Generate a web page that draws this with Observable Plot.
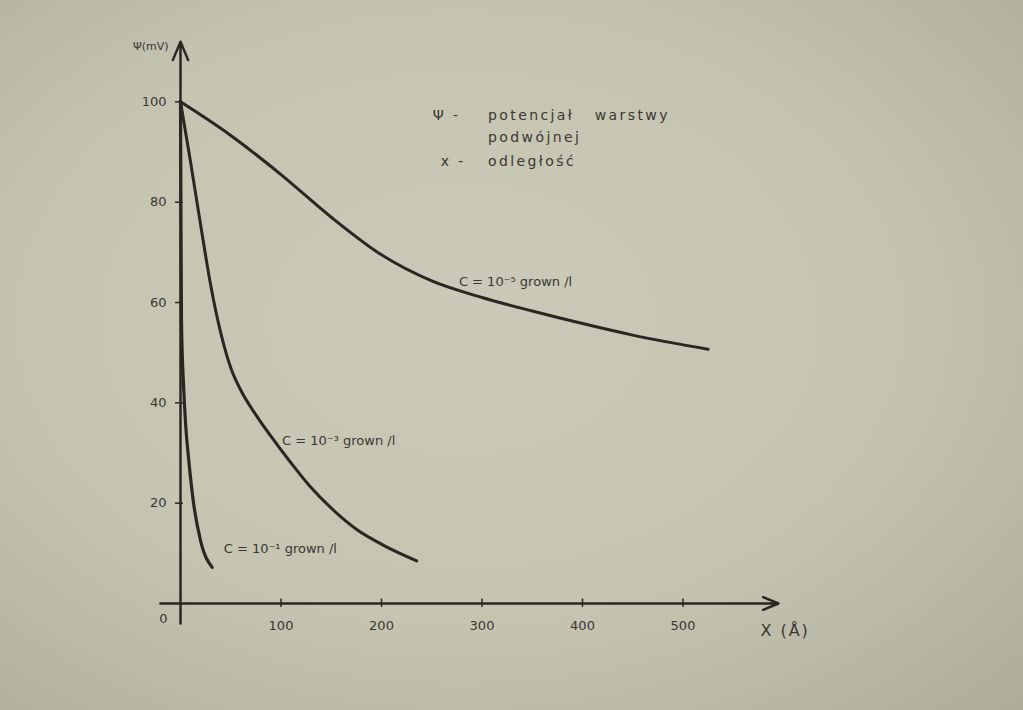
<!DOCTYPE html>
<html>
<head>
<meta charset="utf-8">
<script src="https://cdn.jsdelivr.net/npm/d3@7"></script>
<script src="https://cdn.jsdelivr.net/npm/@observablehq/plot@0.6"></script>
<style>
  html, body { margin: 0; padding: 0; }
  body {
    width: 1023px; height: 710px; overflow: hidden;
    background: radial-gradient(ellipse at 45% 45%, #cbcab8 0%, #c5c4b1 55%, #aeab9a 100%);
  }
  #chart svg { display: block; background: transparent; }
  #chart text { fill: #3a3731; }
  .note text { letter-spacing: 2.4px; }
  .xtitle text { letter-spacing: 2px; }
</style>
</head>
<body>
<div id="chart"></div>
<script>
// Potential of the double layer vs distance, for three concentrations
const x5 = [0, 50, 100, 150, 200, 250, 300, 350, 400, 450, 525];
const y5 = [100, 93.3, 85.5, 77, 69.5, 64.3, 61, 58.3, 55.8, 53.5, 50.7];

const x3 = [0, 10, 20, 30, 40, 50, 60, 75, 89, 110, 129, 150, 175, 205, 235];
const y3 = [100, 88, 75.5, 63.5, 54, 47, 42.5, 37.6, 33.6, 28, 23.3, 19, 14.8, 11.3, 8.5];

const x1 = [0, 0.5, 1, 3.3, 5, 8, 13, 20, 31.5];
const y1 = [100, 75, 56, 42.4, 36, 29, 20, 12.5, 7.2];

const xTicks = [100, 200, 300, 400, 500];
const yTicks = [20, 40, 60, 80, 100];

// axis lines (drawn by hand, with arrow heads)
const axisXExtent = [-20, 595];
const axisYExtent = [-4, 112];

// explanatory notes
const noteText = ["Ψ -", "potencjał   warstwy", "podwójnej", "x -", "odległość"];
const noteX = [251, 306, 306, 259, 306];
const noteY = [97.2, 97.2, 92.8, 88.2, 88.2];

// curve labels
const curveLabel = ["C = 10⁻⁵ grown /l", "C = 10⁻³ grown /l", "C = 10⁻¹ grown /l"];
const curveLabelX = [277, 101, 43];
const curveLabelY = [64.1, 32.5, 10.8];

const toPts = (xs, ys) => xs.map((x, i) => ({x, y: ys[i]}));
const ink = "#2a2722";

const chart = Plot.plot({
  width: 1023,
  height: 710,
  marginLeft: 180,
  marginRight: 240,
  marginTop: 1,
  marginBottom: 107,
  style: {fontFamily: "DejaVu Sans, sans-serif", background: "transparent", overflow: "visible"},
  x: {domain: [0, 600]},
  y: {domain: [0, 120]},
  marks: [
    Plot.axisY({ticks: yTicks, tickSize: 5, tickPadding: 9, fontSize: 13, label: null, stroke: ink, strokeWidth: 1.5}),
    Plot.axisX({ticks: xTicks, tickSize: 4, tickPadding: 13, fontSize: 13, label: null, stroke: ink, strokeWidth: 1.5}),
    // short tick stubs crossing the axes
    Plot.ruleX(xTicks, {x: d => d, y1: 0, y2: 0.9, stroke: ink, strokeWidth: 1.5}),
    Plot.ruleY(yTicks, {y: d => d, x1: 0, x2: 3, stroke: ink, strokeWidth: 1.5}),
    // axis lines with arrows
    Plot.arrow([{x1: axisXExtent[0], y1: 0, x2: axisXExtent[1], y2: 0}],
      {x1: "x1", y1: "y1", x2: "x2", y2: "y2", stroke: ink, strokeWidth: 2.5, headLength: 10, headAngle: 45}),
    Plot.arrow([{x1: 0, y1: axisYExtent[0], x2: 0, y2: axisYExtent[1]}],
      {x1: "x1", y1: "y1", x2: "x2", y2: "y2", stroke: ink, strokeWidth: 2.5, headLength: 12, headAngle: 45}),
    // curves
    Plot.line(toPts(x5, y5), {x: "x", y: "y", stroke: ink, strokeWidth: 3, curve: "monotone-x"}),
    Plot.line(toPts(x3, y3), {x: "x", y: "y", stroke: ink, strokeWidth: 3, curve: "monotone-x"}),
    Plot.line(toPts(x1, y1), {x: "x", y: "y", stroke: ink, strokeWidth: 3.2, curve: "monotone-x"}),
    // origin label
    Plot.text([0], {x: 0, y: 0, text: () => "0", dx: -17, dy: 15, fontSize: 13}),
    // axis titles
    Plot.text(["Ψ(mV)"], {x: 0, y: 111, text: d => d, textAnchor: "end", dx: -12, fontSize: 11}),
    Plot.text(["X (Å)"], {x: 577, y: -5.4, text: d => d, textAnchor: "start", fontSize: 16, className: "xtitle"}),
    // notes
    Plot.text(noteText, {x: (d, i) => noteX[i], y: (d, i) => noteY[i], text: d => d,
      textAnchor: "start", fontSize: 14, className: "note"}),
    // curve labels
    Plot.text(curveLabel, {x: (d, i) => curveLabelX[i], y: (d, i) => curveLabelY[i], text: d => d,
      textAnchor: "start", fontSize: 13})
  ]
});
document.getElementById("chart").appendChild(chart);
</script>
</body>
</html>
